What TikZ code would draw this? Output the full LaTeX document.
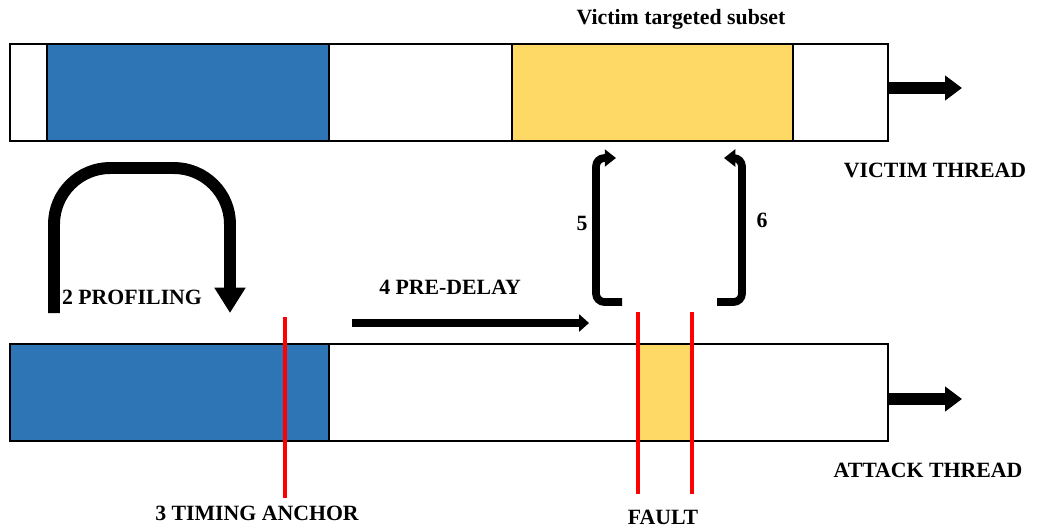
\documentclass[tikz,border=0pt]{standalone}
\usepackage{fontspec}
\setmainfont{Liberation Serif}
\usetikzlibrary{arrows.meta,positioning,fit,calc}

\definecolor{segblue}{HTML}{2E75B6}
\definecolor{segyellow}{HTML}{FFD966}

\begin{document}
\begin{tikzpicture}[
    x=0.025cm, y=-0.025cm,
    font=\fontsize{15.5}{18}\selectfont\bfseries,
    seg/.style={draw=black, line width=1.5pt, rectangle, minimum height=2.425cm, inner sep=0pt, outer sep=0pt},
    lbl/.style={inner sep=0pt},
    fatarrow/.style={line width=8.5pt, -{Triangle[length=12pt,width=17pt]}},
    bendarrow/.style={line width=5.5pt, rounded corners=6pt, -{Triangle[length=8pt,width=12pt]}},
    marker/.style={draw=red, line width=2.4pt}
]
\useasboundingbox (0,0) rectangle (1040,528);

% victim thread
\node[seg, fill=white, minimum width=0.925cm, anchor=north west] (v1) at (10,44) {};
\node[seg, fill=segblue, minimum width=7.05cm, right=0pt of v1] (v2) {};
\node[seg, fill=white, minimum width=4.575cm, right=0pt of v2] (v3) {};
\node[seg, fill=segyellow, minimum width=7.025cm, right=0pt of v3] (v4) {};
\node[seg, fill=white, minimum width=2.375cm, right=0pt of v4] (v5) {};
\node[fit=(v1)(v5), inner sep=0pt] (victim) {};

% attack thread
\node[seg, fill=segblue, minimum width=7.975cm, anchor=north west] (a1) at (10,344) {};
\node[fill=segyellow, minimum width=1.35cm, minimum height=2.425cm, inner sep=0pt, anchor=north west] (fault) at (638,344) {};
\node[seg, minimum width=13.975cm, right=0pt of a1] (a2) {};
\node[fit=(a1)(a2), inner sep=0pt] (attack) {};

% labels
\node[lbl] (subset) at (681,19) {Victim targeted subset};
\node[lbl] (vname) at (935,170) {VICTIM THREAD};
\node[lbl] (aname) at (928,470) {ATTACK THREAD};
\node[lbl] (profl) at (132,297) {2 PROFILING};
\node[lbl] (anchl) at (257,513) {3 TIMING ANCHOR};
\node[lbl] (delayl) at (450,287) {4 PRE-DELAY};
\node[lbl] (n5) at (582,223) {5};
\node[lbl] (n6) at (762,220) {6};
\node[lbl] (faultl) at (663,517) {FAULT};

% free ends
\coordinate (vout) at (962,88);
\coordinate (aout) at (962,399);
\coordinate (pstart) at (54,313);
\coordinate (pend) at (230,313);
\coordinate (dstart) at (352,323);
\coordinate (dend) at (589,323);

% arrows
\draw[fatarrow] (victim.east |- vout) -- (vout);
\draw[fatarrow] (attack.east |- aout) -- (aout);
\draw[line width=8.5pt, rounded corners=40pt, -{Triangle[length=18pt,width=21pt]}]
    (pstart) -- (54,168) -- (230,168) -- (pend);
\draw[line width=5.5pt, -{Triangle[length=7pt,width=12pt]}] (dstart) -- (dend);
\draw[bendarrow] (622,302) -- (596,302) -- (596,158) -- (616,158);
\draw[bendarrow] (717,302) -- (742,302) -- (742,158) -- (724,158);

% markers
\draw[marker] (285,317) -- (285,498);
\draw[marker] (638,312) -- (638,494);
\draw[marker] (692,312) -- (692,494);

\end{tikzpicture}
\end{document}
